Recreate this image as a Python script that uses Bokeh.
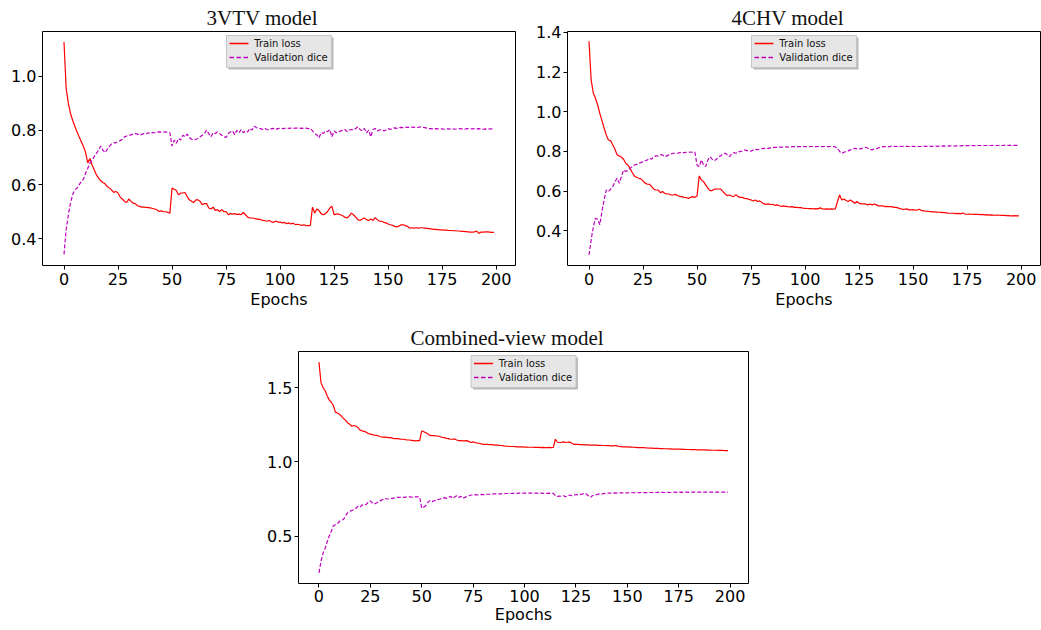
from bokeh.plotting import figure
from bokeh.models import (Range1d, FixedTicker, NumeralTickFormatter, Legend, LegendItem, Spacer)
from bokeh.layouts import column, row
from bokeh.embed import file_html
from bokeh.resources import INLINE

epochs = list(range(200))

# ---------------- 3VTV model ----------------
vtv_train = [
    1.125, 0.954, 0.900, 0.862, 0.837, 0.815, 0.795, 0.776, 0.758, 0.740,
    0.718, 0.680, 0.696, 0.672, 0.654, 0.636, 0.624, 0.614, 0.608, 0.603,
    0.593, 0.587, 0.581, 0.571, 0.575, 0.569, 0.554, 0.547, 0.538, 0.534,
    0.547, 0.538, 0.532, 0.530, 0.522, 0.520, 0.517, 0.517, 0.516, 0.515,
    0.514, 0.512, 0.510, 0.507, 0.501, 0.503, 0.500, 0.500, 0.498, 0.495,
    0.587, 0.583, 0.578, 0.562, 0.569, 0.569, 0.571, 0.556, 0.544, 0.539,
    0.534, 0.544, 0.544, 0.538, 0.526, 0.530, 0.530, 0.514, 0.510, 0.517,
    0.505, 0.508, 0.501, 0.508, 0.500, 0.501, 0.489, 0.493, 0.491, 0.493,
    0.490, 0.491, 0.489, 0.498, 0.489, 0.480, 0.477, 0.477, 0.476, 0.473,
    0.473, 0.471, 0.468, 0.467, 0.465, 0.468, 0.463, 0.461, 0.466, 0.462,
    0.462, 0.459, 0.461, 0.456, 0.459, 0.455, 0.458, 0.453, 0.454, 0.452,
    0.450, 0.452, 0.449, 0.449, 0.450, 0.517, 0.495, 0.510, 0.505, 0.493,
    0.489, 0.493, 0.501, 0.514, 0.520, 0.489, 0.491, 0.491, 0.489, 0.485,
    0.480, 0.477, 0.485, 0.495, 0.489, 0.480, 0.471, 0.468, 0.473, 0.477,
    0.471, 0.468, 0.473, 0.468, 0.478, 0.471, 0.465, 0.465, 0.461, 0.459,
    0.455, 0.452, 0.450, 0.446, 0.444, 0.447, 0.452, 0.452, 0.449, 0.446,
    0.440, 0.441, 0.440, 0.441, 0.440, 0.441, 0.441, 0.440, 0.439, 0.438,
    0.437, 0.435, 0.435, 0.434, 0.433, 0.433, 0.432, 0.432, 0.431, 0.431,
    0.430, 0.430, 0.429, 0.429, 0.428, 0.428, 0.427, 0.426, 0.425, 0.425,
    0.426, 0.429, 0.420, 0.425, 0.425, 0.426, 0.426, 0.425, 0.424, 0.424,
]
vtv_val = [
    0.343, 0.434, 0.489, 0.532, 0.563, 0.581, 0.587, 0.599, 0.611, 0.620,
    0.642, 0.660, 0.679, 0.691, 0.703, 0.715, 0.727, 0.742, 0.727, 0.718,
    0.730, 0.740, 0.750, 0.754, 0.754, 0.758, 0.762, 0.767, 0.776, 0.779,
    0.782, 0.783, 0.786, 0.788, 0.786, 0.782, 0.785, 0.788, 0.786, 0.791,
    0.788, 0.792, 0.791, 0.793, 0.794, 0.793, 0.794, 0.793, 0.793, 0.791,
    0.742, 0.764, 0.752, 0.770, 0.764, 0.782, 0.776, 0.786, 0.774, 0.767,
    0.764, 0.767, 0.770, 0.776, 0.782, 0.788, 0.801, 0.788, 0.776, 0.791,
    0.788, 0.794, 0.788, 0.782, 0.776, 0.774, 0.788, 0.794, 0.798, 0.784,
    0.800, 0.791, 0.803, 0.791, 0.798, 0.794, 0.807, 0.801, 0.815, 0.810,
    0.807, 0.806, 0.803, 0.807, 0.803, 0.801, 0.806, 0.807, 0.803, 0.806,
    0.808, 0.806, 0.807, 0.808, 0.807, 0.808, 0.807, 0.808, 0.808, 0.807,
    0.808, 0.807, 0.808, 0.806, 0.807, 0.798, 0.789, 0.783, 0.772, 0.791,
    0.789, 0.798, 0.795, 0.803, 0.776, 0.798, 0.791, 0.795, 0.797, 0.801,
    0.803, 0.795, 0.801, 0.803, 0.801, 0.807, 0.813, 0.803, 0.798, 0.807,
    0.791, 0.801, 0.776, 0.803, 0.807, 0.798, 0.801, 0.803, 0.798, 0.801,
    0.806, 0.803, 0.807, 0.809, 0.807, 0.810, 0.811, 0.810, 0.812, 0.811,
    0.811, 0.812, 0.811, 0.810, 0.811, 0.813, 0.811, 0.810, 0.808, 0.806,
    0.806, 0.805, 0.806, 0.805, 0.806, 0.805, 0.804, 0.805, 0.805, 0.804,
    0.805, 0.804, 0.805, 0.806, 0.805, 0.804, 0.805, 0.806, 0.806, 0.805,
    0.806, 0.805, 0.806, 0.805, 0.804, 0.805, 0.804, 0.805, 0.805, 0.804,
]

# ---------------- 4CHV model ----------------
chv_train = [
    1.355, 1.160, 1.093, 1.068, 1.034, 0.992, 0.955, 0.917, 0.883, 0.858,
    0.855, 0.833, 0.811, 0.783, 0.778, 0.771, 0.761, 0.741, 0.732, 0.715,
    0.694, 0.677, 0.670, 0.665, 0.662, 0.652, 0.640, 0.635, 0.635, 0.623,
    0.610, 0.606, 0.606, 0.593, 0.598, 0.590, 0.586, 0.586, 0.581, 0.581,
    0.584, 0.578, 0.573, 0.573, 0.569, 0.568, 0.563, 0.569, 0.573, 0.569,
    0.576, 0.677, 0.657, 0.648, 0.632, 0.615, 0.603, 0.603, 0.610, 0.611,
    0.611, 0.610, 0.598, 0.586, 0.578, 0.581, 0.576, 0.573, 0.583, 0.573,
    0.569, 0.569, 0.564, 0.563, 0.559, 0.556, 0.551, 0.556, 0.548, 0.551,
    0.543, 0.536, 0.534, 0.536, 0.533, 0.534, 0.529, 0.531, 0.527, 0.524,
    0.526, 0.524, 0.522, 0.521, 0.522, 0.519, 0.519, 0.517, 0.517, 0.515,
    0.514, 0.513, 0.512, 0.513, 0.511, 0.512, 0.511, 0.516, 0.511, 0.510,
    0.511, 0.510, 0.511, 0.510, 0.511, 0.548, 0.581, 0.556, 0.561, 0.553,
    0.548, 0.556, 0.548, 0.539, 0.548, 0.539, 0.536, 0.536, 0.536, 0.531,
    0.536, 0.531, 0.536, 0.531, 0.526, 0.526, 0.526, 0.522, 0.524, 0.522,
    0.522, 0.519, 0.519, 0.516, 0.512, 0.509, 0.509, 0.511, 0.506, 0.506,
    0.507, 0.504, 0.506, 0.509, 0.502, 0.501, 0.499, 0.498, 0.497, 0.496,
    0.496, 0.495, 0.494, 0.493, 0.492, 0.492, 0.490, 0.489, 0.489, 0.488,
    0.487, 0.488, 0.486, 0.490, 0.485, 0.484, 0.485, 0.484, 0.483, 0.484,
    0.483, 0.482, 0.483, 0.481, 0.482, 0.480, 0.481, 0.480, 0.479, 0.480,
    0.479, 0.478, 0.478, 0.477, 0.477, 0.476, 0.476, 0.477, 0.476, 0.476,
]
chv_val = [
    0.279, 0.355, 0.422, 0.464, 0.459, 0.431, 0.499, 0.556, 0.606, 0.598,
    0.610, 0.623, 0.648, 0.665, 0.640, 0.673, 0.707, 0.699, 0.704, 0.715,
    0.724, 0.732, 0.735, 0.741, 0.744, 0.749, 0.754, 0.757, 0.766, 0.761,
    0.774, 0.778, 0.778, 0.783, 0.783, 0.774, 0.778, 0.783, 0.788, 0.791,
    0.791, 0.791, 0.794, 0.794, 0.794, 0.796, 0.796, 0.797, 0.796, 0.797,
    0.732, 0.724, 0.757, 0.732, 0.724, 0.757, 0.774, 0.761, 0.754, 0.761,
    0.774, 0.778, 0.788, 0.791, 0.783, 0.774, 0.788, 0.794, 0.791, 0.799,
    0.799, 0.804, 0.808, 0.804, 0.804, 0.801, 0.808, 0.811, 0.809, 0.813,
    0.814, 0.816, 0.814, 0.816, 0.818, 0.819, 0.821, 0.821, 0.822, 0.822,
    0.822, 0.823, 0.822, 0.823, 0.824, 0.824, 0.823, 0.824, 0.824, 0.825,
    0.824, 0.825, 0.824, 0.825, 0.825, 0.824, 0.825, 0.825, 0.824, 0.825,
    0.825, 0.824, 0.825, 0.825, 0.823, 0.816, 0.800, 0.791, 0.796, 0.800,
    0.803, 0.808, 0.811, 0.816, 0.813, 0.813, 0.814, 0.819, 0.821, 0.816,
    0.811, 0.808, 0.813, 0.814, 0.818, 0.821, 0.824, 0.824, 0.823, 0.824,
    0.827, 0.826, 0.825, 0.826, 0.826, 0.825, 0.826, 0.826, 0.825, 0.826,
    0.826, 0.825, 0.826, 0.825, 0.826, 0.827, 0.826, 0.825, 0.826, 0.826,
    0.827, 0.826, 0.827, 0.827, 0.828, 0.827, 0.827, 0.828, 0.828, 0.827,
    0.828, 0.828, 0.828, 0.829, 0.829, 0.829, 0.829, 0.830, 0.829, 0.829,
    0.830, 0.830, 0.829, 0.830, 0.830, 0.830, 0.830, 0.831, 0.830, 0.830,
    0.831, 0.830, 0.831, 0.830, 0.831, 0.831, 0.831, 0.831, 0.831, 0.831,
]

# ---------------- Combined-view model ----------------
comb_train = [
    1.673, 1.535, 1.502, 1.480, 1.447, 1.418, 1.403, 1.381, 1.336, 1.330,
    1.321, 1.308, 1.292, 1.281, 1.263, 1.254, 1.241, 1.246, 1.241, 1.232,
    1.215, 1.210, 1.206, 1.201, 1.192, 1.188, 1.184, 1.181, 1.179, 1.175,
    1.170, 1.168, 1.168, 1.166, 1.164, 1.164, 1.159, 1.157, 1.157, 1.155,
    1.153, 1.153, 1.150, 1.148, 1.148, 1.146, 1.144, 1.142, 1.144, 1.144,
    1.210, 1.204, 1.197, 1.188, 1.179, 1.177, 1.177, 1.175, 1.175, 1.170,
    1.166, 1.164, 1.159, 1.157, 1.153, 1.153, 1.155, 1.148, 1.144, 1.144,
    1.142, 1.142, 1.144, 1.137, 1.131, 1.135, 1.131, 1.126, 1.126, 1.122,
    1.119, 1.119, 1.119, 1.117, 1.117, 1.115, 1.113, 1.113, 1.111, 1.111,
    1.108, 1.106, 1.106, 1.104, 1.104, 1.104, 1.102, 1.102, 1.101, 1.101,
    1.100, 1.100, 1.099, 1.099, 1.099, 1.098, 1.098, 1.098, 1.097, 1.098,
    1.097, 1.097, 1.098, 1.097, 1.098, 1.153, 1.133, 1.131, 1.131, 1.135,
    1.131, 1.133, 1.135, 1.126, 1.119, 1.119, 1.119, 1.117, 1.117, 1.115,
    1.115, 1.115, 1.114, 1.114, 1.113, 1.113, 1.112, 1.112, 1.111, 1.111,
    1.110, 1.110, 1.109, 1.109, 1.111, 1.108, 1.104, 1.103, 1.102, 1.102,
    1.101, 1.100, 1.100, 1.099, 1.098, 1.097, 1.097, 1.096, 1.096, 1.095,
    1.094, 1.093, 1.093, 1.092, 1.092, 1.091, 1.090, 1.090, 1.089, 1.089,
    1.088, 1.088, 1.087, 1.087, 1.086, 1.086, 1.086, 1.085, 1.085, 1.084,
    1.084, 1.083, 1.083, 1.083, 1.082, 1.082, 1.081, 1.081, 1.081, 1.080,
    1.080, 1.079, 1.079, 1.079, 1.078, 1.078, 1.078, 1.077, 1.077, 1.077,
]
comb_val = [
    0.252, 0.330, 0.385, 0.418, 0.462, 0.500, 0.533, 0.569, 0.577, 0.584,
    0.600, 0.606, 0.613, 0.639, 0.657, 0.666, 0.673, 0.679, 0.688, 0.701,
    0.695, 0.710, 0.706, 0.715, 0.728, 0.737, 0.723, 0.717, 0.723, 0.732,
    0.739, 0.746, 0.754, 0.750, 0.750, 0.754, 0.754, 0.759, 0.761, 0.761,
    0.761, 0.761, 0.763, 0.763, 0.765, 0.763, 0.763, 0.765, 0.765, 0.763,
    0.688, 0.695, 0.706, 0.728, 0.739, 0.732, 0.737, 0.746, 0.746, 0.750,
    0.754, 0.759, 0.754, 0.761, 0.768, 0.754, 0.763, 0.772, 0.761, 0.768,
    0.754, 0.761, 0.768, 0.772, 0.777, 0.777, 0.779, 0.777, 0.779, 0.781,
    0.779, 0.781, 0.782, 0.782, 0.783, 0.784, 0.784, 0.785, 0.785, 0.786,
    0.786, 0.787, 0.787, 0.787, 0.788, 0.788, 0.788, 0.789, 0.789, 0.790,
    0.790, 0.789, 0.790, 0.789, 0.789, 0.790, 0.789, 0.788, 0.789, 0.788,
    0.789, 0.788, 0.789, 0.788, 0.788, 0.772, 0.768, 0.770, 0.768, 0.772,
    0.765, 0.772, 0.777, 0.772, 0.779, 0.777, 0.781, 0.781, 0.783, 0.788,
    0.785, 0.772, 0.761, 0.772, 0.777, 0.779, 0.783, 0.785, 0.785, 0.788,
    0.788, 0.790, 0.789, 0.790, 0.791, 0.790, 0.791, 0.792, 0.791, 0.792,
    0.791, 0.792, 0.793, 0.792, 0.793, 0.792, 0.793, 0.794, 0.793, 0.794,
    0.793, 0.794, 0.794, 0.793, 0.794, 0.795, 0.794, 0.795, 0.794, 0.795,
    0.795, 0.794, 0.795, 0.796, 0.795, 0.795, 0.796, 0.795, 0.796, 0.796,
    0.795, 0.796, 0.796, 0.797, 0.796, 0.796, 0.797, 0.796, 0.797, 0.797,
    0.796, 0.797, 0.797, 0.797, 0.797, 0.797, 0.797, 0.797, 0.797, 0.797,
]

x_ticks = [0, 25, 50, 75, 100, 125, 150, 175, 200]
vtv_yticks = [0.4, 0.6, 0.8, 1.0]
chv_yticks = [0.4, 0.6, 0.8, 1.0, 1.2, 1.4]
comb_yticks = [0.5, 1.0, 1.5]
legend_labels = ["Train loss", "Validation dice"]

TRAIN_COLOR = "#ff0000"
VAL_COLOR = "#bf00bf"
VAL_DASH = "4 2"

# legend geometry (pixels)
LEG_W = 105
LEG_H = 32
LEG_TOP = 4
LEG_PAD = 3
GLYPH_W = 19
ROW1_Y = 12
ROW2_Y = 26
SAMPLE_T = 1.4  # thickness of the legend sample strokes
# dashed legend sample drawn as short pieces: (start, end) offsets in pixels
DASH_PIECES = [(0.0, 4.5), (7.0, 11.5), (14.0, 18.5)]


def make_plot(title, title_offset, train, val, y_lo, y_hi, yticks, width, height, bl, br, bt, bb):
    fw = width - bl - br
    fh = height - bt - bb
    p = figure(width=width, height=height, output_backend="svg", toolbar_location=None,
               x_range=Range1d(-9.95, 208.95), y_range=Range1d(y_lo, y_hi),
               min_border_left=bl, min_border_right=br, min_border_top=bt, min_border_bottom=bb,
               title=title)
    # pixel-like helper ranges for the legend box (origin at frame top-left)
    p.extra_x_ranges = {"px": Range1d(0, fw)}
    p.extra_y_ranges = {"py": Range1d(-fh, 0)}

    p.title.text_font = "Liberation Serif"
    p.title.text_font_size = "21px"
    p.title.text_font_style = "normal"
    p.title.text_color = "#111111"
    p.title.align = "left"
    p.title.offset = title_offset
    p.title.standoff = 4

    p.line(epochs, train, line_color=TRAIN_COLOR, line_width=1.2)
    p.line(epochs, val, line_color=VAL_COLOR, line_width=1.2, line_dash=VAL_DASH)

    # legend box, shadow and sample strokes (filled shapes in the pixel ranges)
    lx = (fw - LEG_W) / 2.0
    top = -LEG_TOP
    bot = -(LEG_TOP + LEG_H)
    p.quad(left=[lx + 2], right=[lx + LEG_W + 2], top=[top - 2], bottom=[bot - 2],
           x_range_name="px", y_range_name="py",
           fill_color="#8c8c8c", fill_alpha=0.6, line_color=None)
    p.quad(left=[lx], right=[lx + LEG_W], top=[top], bottom=[bot],
           x_range_name="px", y_range_name="py",
           fill_color="#e6e6e6", fill_alpha=1.0, line_color="#c4c4c4", line_width=1)
    gx0 = lx + LEG_PAD
    gx1 = gx0 + GLYPH_W
    h = SAMPLE_T / 2.0
    p.quad(left=[gx0], right=[gx1], top=[-ROW1_Y + h], bottom=[-ROW1_Y - h],
           x_range_name="px", y_range_name="py",
           fill_color=TRAIN_COLOR, fill_alpha=1.0, line_color=None)
    p.quad(left=[gx0 + a for a, b in DASH_PIECES], right=[gx0 + b for a, b in DASH_PIECES],
           top=[-ROW2_Y + h] * len(DASH_PIECES), bottom=[-ROW2_Y - h] * len(DASH_PIECES),
           x_range_name="px", y_range_name="py",
           fill_color=VAL_COLOR, fill_alpha=1.0, line_color=None)

    # legend labels (legend renderers carry no data, so only the texts are drawn)
    d1 = p.line([], [], line_color=TRAIN_COLOR, line_width=1.2)
    d2 = p.line([], [], line_color=VAL_COLOR, line_width=1.2, line_dash=VAL_DASH)
    legend = Legend(items=[LegendItem(label=legend_labels[0], renderers=[d1]),
                           LegendItem(label=legend_labels[1], renderers=[d2])],
                    location="top_center")
    legend.label_text_font = "DejaVu Sans"
    legend.label_text_font_size = "10px"
    legend.label_text_color = "#111111"
    legend.label_height = 12
    legend.glyph_height = 12
    legend.glyph_width = GLYPH_W
    legend.label_standoff = 6
    legend.padding = LEG_PAD
    legend.spacing = 2
    legend.margin = 6
    legend.border_line_color = None
    legend.background_fill_alpha = 0.0
    p.add_layout(legend)

    p.xgrid.visible = False
    p.ygrid.visible = False
    p.outline_line_color = "black"
    p.outline_line_width = 1
    p.outline_line_alpha = 1.0
    p.background_fill_color = "white"
    p.border_fill_color = "white"

    for ax in (p.xaxis[0], p.yaxis[0]):
        ax.axis_line_color = None
        ax.major_tick_line_color = "black"
        ax.major_tick_in = 0
        ax.major_tick_out = 4
        ax.minor_tick_line_color = None
        ax.major_label_text_font = "DejaVu Sans"
        ax.major_label_text_font_size = "16px"
        ax.major_label_text_color = "black"
        ax.major_label_standoff = 2

    p.xaxis.ticker = FixedTicker(ticks=x_ticks)
    p.xaxis.major_label_standoff = 3
    p.xaxis.axis_label = "Epochs"
    p.xaxis.axis_label_text_font = "DejaVu Sans"
    p.xaxis.axis_label_text_font_size = "16px"
    p.xaxis.axis_label_text_font_style = "normal"
    p.xaxis.axis_label_text_color = "black"
    p.xaxis.axis_label_standoff = 2

    p.yaxis.ticker = FixedTicker(ticks=yticks)
    p.yaxis.formatter = NumeralTickFormatter(format="0.0")
    return p


p1 = make_plot("3VTV model", 164, vtv_train, vtv_val, 0.302, 1.164, vtv_yticks,
               520, 313, 42, 5, 31, 48)
p2 = make_plot("4CHV model", 164, chv_train, chv_val, 0.226, 1.404, chv_yticks,
               521, 313, 47, 1, 31, 48)
p3 = make_plot("Combined-view model", 112, comb_train, comb_val, 0.180, 1.745, comb_yticks,
               497, 316, 42, 5, 38, 46)
p3.xaxis.major_label_standoff = 2
p3.xaxis.axis_label_standoff = 0

layout = column(row(p1, p2), row(Spacer(width=256, height=316), p3))

open("out.html", "w").write(file_html(layout, INLINE))
